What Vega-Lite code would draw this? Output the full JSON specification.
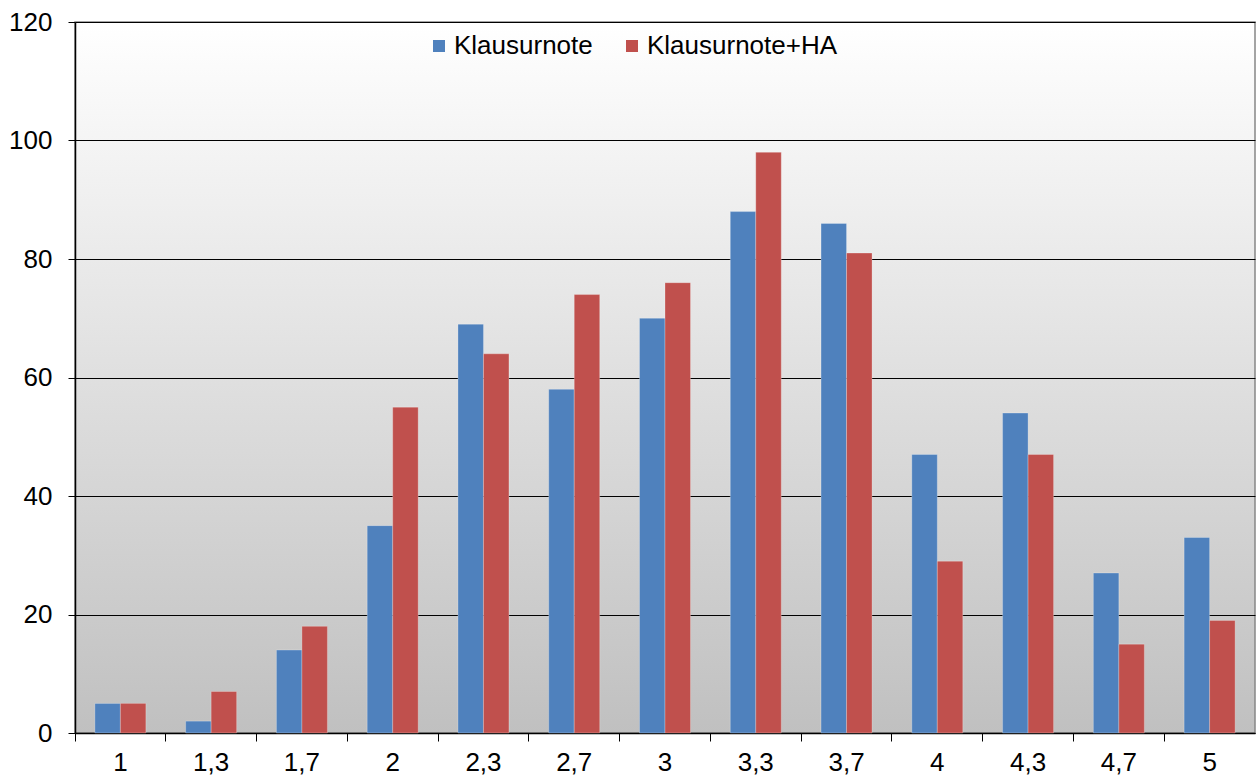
{
  "$schema": "https://vega.github.io/schema/vega-lite/v6.json",
  "autosize": {"type": "none"},
  "width": 1180,
  "height": 711,
  "padding": {"left": 75, "top": 22, "right": 4, "bottom": 47},
  "background": "#ffffff",
  "config": {
    "font": "Liberation Sans",
    "view": {
      "stroke": "#868686",
      "strokeWidth": 1.5,
      "fill": {"gradient": "linear", "x1": 0, "y1": 0, "x2": 0, "y2": 1, "stops": [{"offset": 0, "color": "#ffffff"}, {"offset": 1, "color": "#c0c0c0"}]}
    }
  },
  "data": {
    "values": [
      {"note": "1", "serie": "Klausurnote", "anzahl": 5},
      {"note": "1", "serie": "Klausurnote+HA", "anzahl": 5},
      {"note": "1,3", "serie": "Klausurnote", "anzahl": 2},
      {"note": "1,3", "serie": "Klausurnote+HA", "anzahl": 7},
      {"note": "1,7", "serie": "Klausurnote", "anzahl": 14},
      {"note": "1,7", "serie": "Klausurnote+HA", "anzahl": 18},
      {"note": "2", "serie": "Klausurnote", "anzahl": 35},
      {"note": "2", "serie": "Klausurnote+HA", "anzahl": 55},
      {"note": "2,3", "serie": "Klausurnote", "anzahl": 69},
      {"note": "2,3", "serie": "Klausurnote+HA", "anzahl": 64},
      {"note": "2,7", "serie": "Klausurnote", "anzahl": 58},
      {"note": "2,7", "serie": "Klausurnote+HA", "anzahl": 74},
      {"note": "3", "serie": "Klausurnote", "anzahl": 70},
      {"note": "3", "serie": "Klausurnote+HA", "anzahl": 76},
      {"note": "3,3", "serie": "Klausurnote", "anzahl": 88},
      {"note": "3,3", "serie": "Klausurnote+HA", "anzahl": 98},
      {"note": "3,7", "serie": "Klausurnote", "anzahl": 86},
      {"note": "3,7", "serie": "Klausurnote+HA", "anzahl": 81},
      {"note": "4", "serie": "Klausurnote", "anzahl": 47},
      {"note": "4", "serie": "Klausurnote+HA", "anzahl": 29},
      {"note": "4,3", "serie": "Klausurnote", "anzahl": 54},
      {"note": "4,3", "serie": "Klausurnote+HA", "anzahl": 47},
      {"note": "4,7", "serie": "Klausurnote", "anzahl": 27},
      {"note": "4,7", "serie": "Klausurnote+HA", "anzahl": 15},
      {"note": "5", "serie": "Klausurnote", "anzahl": 33},
      {"note": "5", "serie": "Klausurnote+HA", "anzahl": 19}
    ]
  },
  "mark": {"type": "bar", "stroke": "#ffffff", "strokeOpacity": 0.25, "strokeWidth": 1},
  "encoding": {
    "x": {
      "field": "note",
      "type": "nominal",
      "sort": ["1", "1,3", "1,7", "2", "2,3", "2,7", "3", "3,3", "3,7", "4", "4,3", "4,7", "5"],
      "scale": {"paddingInner": 0, "paddingOuter": 0},
      "axis": {
        "title": null,
        "labelAngle": 0,
        "bandPosition": 0,
        "labelFontSize": 26,
        "labelColor": "#000000",
        "labelPadding": 8,
        "tickSize": 8,
        "tickColor": "#000000",
        "domainColor": "#000000",
        "domainWidth": 1.5,
        "grid": false
      }
    },
    "xOffset": {
      "field": "serie",
      "type": "nominal",
      "sort": ["Klausurnote", "Klausurnote+HA"],
      "scale": {"paddingInner": 0, "paddingOuter": 0.78}
    },
    "y": {
      "field": "anzahl",
      "type": "quantitative",
      "scale": {"domain": [0, 120], "nice": false},
      "axis": {
        "title": null,
        "values": [0, 20, 40, 60, 80, 100, 120],
        "labelFontSize": 26,
        "labelColor": "#000000",
        "labelPadding": 16,
        "tickSize": 7,
        "tickColor": "#000000",
        "domainColor": "#000000",
        "domainWidth": 1.5,
        "gridColor": "#000000",
        "gridWidth": 1
      }
    },
    "color": {
      "field": "serie",
      "type": "nominal",
      "scale": {"domain": ["Klausurnote", "Klausurnote+HA"], "range": ["#4f81bd", "#c0504d"]},
      "legend": {
        "title": null,
        "orient": "none",
        "direction": "horizontal",
        "legendX": 351,
        "legendY": 11,
        "padding": 0,
        "symbolType": "square",
        "symbolSize": 144,
        "symbolStrokeWidth": 0,
        "symbolOpacity": 1,
        "labelFontSize": 26,
        "labelLimit": 400,
        "labelColor": "#000000",
        "labelOffset": 2,
        "columnPadding": 26
      }
    }
  }
}
